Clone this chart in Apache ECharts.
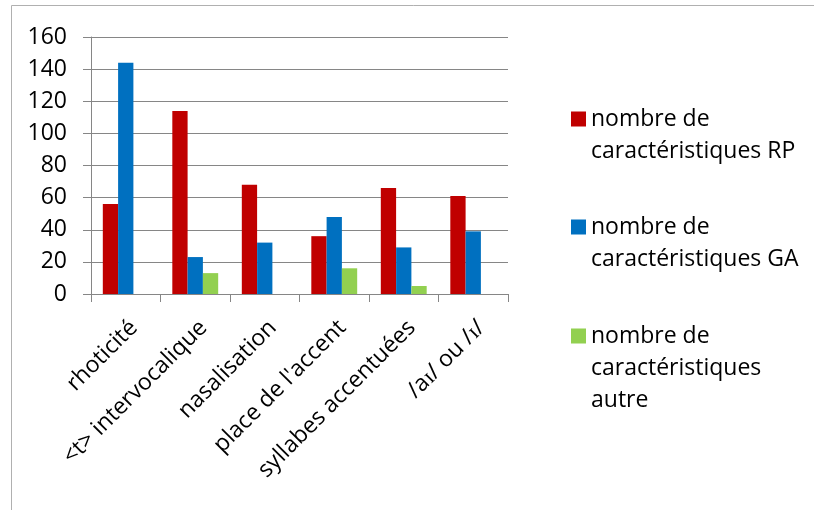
<!DOCTYPE html>
<html>
<head>
<meta charset="utf-8">
<style>
  html, body { margin: 0; padding: 0; background: #ffffff; }
  #chart { width: 814px; height: 510px; }
</style>
<script src="https://cdn.jsdelivr.net/npm/echarts@6/dist/echarts.min.js"></script>
</head>
<body>
<div id="chart"></div>
<script>
const categories = ['rhoticité', '<t> intervocalique', 'nasalisation', "place de l'accent", 'syllabes accentuées', '/aɪ/ ou /ɪ/'];
const seriesNames = ['nombre de\ncaractéristiques RP', 'nombre de\ncaractéristiques GA', 'nombre de\ncaractéristiques\nautre'];
const valuesRP = [56, 114, 68, 36, 66, 61];
const valuesGA = [144, 23, 32, 48, 29, 39];
const valuesAutre = [0, 13, 0, 16, 5, 0];
const yTicks = [0, 20, 40, 60, 80, 100, 120, 140, 160];

const colors = ['#c00000', '#0070c0', '#92d050'];
const FONT = 'Open Sans';
const FS = 23;
const LH = 32;

const chart = echarts.init(document.getElementById('chart'), null, { renderer: 'canvas' });

// Legend item: square marker aligned with the first text line of a multi-line label.
function legendFor(i, top) {
  const lines = seriesNames[i].split('\n').length;
  const h = LH * lines;
  const y0 = LH / 2 - 7.5, y1 = LH / 2 + 7.5;
  const icon = 'path://M0,' + y0 + 'L15,' + y0 + 'L15,' + y1 + 'L0,' + y1 + 'Z' +
               'M0,0L0.001,0M15,' + h + 'L14.999,' + h;
  return {
    data: [{ name: seriesNames[i], icon: icon }],
    orient: 'vertical',
    left: 571,
    top: top,
    itemWidth: 15,
    itemHeight: h,
    itemGap: 0,
    padding: 0,
    selectedMode: false,
    textStyle: {
      fontFamily: FONT,
      fontSize: FS,
      color: '#000000',
      lineHeight: LH
    }
  };
}

const option = {
  animation: false,
  color: colors,
  textStyle: { fontFamily: FONT },
  graphic: [{
    type: 'rect',
    shape: { x: 11.5, y: 5.5, width: 820, height: 520 },
    style: { fill: 'none', stroke: '#b0b0b0', lineWidth: 1 },
    silent: true
  }],
  grid: { left: 91, right: 306, top: 37, bottom: 216, containLabel: false },
  legend: [legendFor(0, 103), legendFor(1, 211), legendFor(2, 320)],
  xAxis: {
    type: 'category',
    data: categories,
    axisLine: { lineStyle: { color: '#868686', width: 1 } },
    axisTick: { show: true, length: 8, alignWithLabel: false, lineStyle: { color: '#868686' } },
    axisLabel: {
      interval: 0,
      rotate: 45,
      margin: 22,
      align: 'right',
      verticalAlign: 'top',
      fontFamily: FONT,
      fontSize: FS,
      color: '#000000'
    },
    splitLine: { show: false }
  },
  yAxis: {
    type: 'value',
    min: yTicks[0],
    max: yTicks[yTicks.length - 1],
    interval: yTicks[1] - yTicks[0],
    axisLine: { show: true, lineStyle: { color: '#868686', width: 1 } },
    axisTick: { show: true, length: 8, lineStyle: { color: '#868686' } },
    axisLabel: { margin: 24, fontFamily: FONT, fontSize: FS, color: '#000000' },
    splitLine: { show: true, lineStyle: { color: '#868686', width: 1 } }
  },
  series: [
    { name: seriesNames[0], type: 'bar', data: valuesRP, barGap: '0%', barCategoryGap: '34%', itemStyle: { color: colors[0] } },
    { name: seriesNames[1], type: 'bar', data: valuesGA, barGap: '0%', barCategoryGap: '34%', itemStyle: { color: colors[1] } },
    { name: seriesNames[2], type: 'bar', data: valuesAutre, barGap: '0%', barCategoryGap: '34%', itemStyle: { color: colors[2] } }
  ]
};

chart.setOption(option);
</script>
</body>
</html>
